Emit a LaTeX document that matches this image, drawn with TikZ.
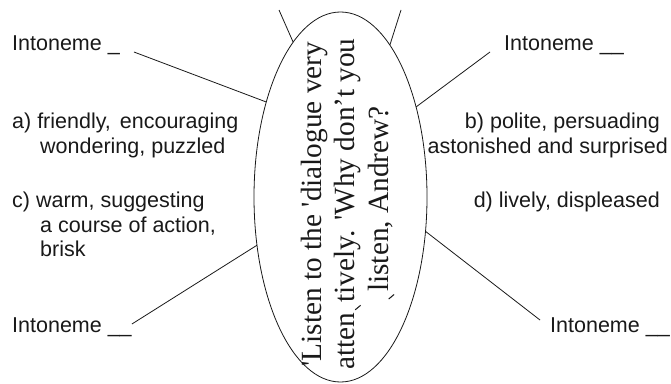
\documentclass[tikz,border=0pt]{standalone}
\usepackage{fontspec}
\usetikzlibrary{shapes.geometric}
\newfontfamily\sansA{Liberation Sans}
\newfontfamily\serifA{Liberation Serif}
\newcommand\lowmk{\kern0.08em\raisebox{-0.22em}{\rotatebox[origin=c]{40}{\rule{0.035em}{0.24em}}}\kern0.08em}
\tikzset{
  lbl/.style={font=\sansA\fontsize{21.5}{25}\selectfont, inner sep=0pt, text=black!90},
  conn/.style={draw=black!90, line width=0.8pt},
  oval/.style={ellipse, draw=black!90, line width=0.8pt, minimum width=173pt, minimum height=370pt, inner sep=0pt, outer sep=0pt},
  quote/.style={rotate=90, align=center, inner sep=0pt, text=black!90, font=\serifA\fontsize{29.3}{33.5}\selectfont}
}
\begin{document}
\begin{tikzpicture}[x=1pt,y=-1pt]
\useasboundingbox (0,0) rectangle (671,383);
\node[oval] (ell) at (340.5,197) {};
\node[quote] (q) at (348,204) {'Listen to the 'dialogue very\\atten\lowmk tively. 'Why don’t you\\\lowmk listen, Andrew?};

% left labels
\node[lbl, anchor=base west] (int1) at (12,50) {Intoneme \_};
\node[lbl, anchor=base west] (a1) at (12,128) {a) friendly,\hspace{3pt} encouraging};
\node[lbl, anchor=base west] (a2) at (40,153) {wondering, puzzled};
\node[lbl, anchor=base west] (c1) at (12,207.5) {c) warm, suggesting};
\node[lbl, anchor=base west] (c2) at (40,232) {a course of action,};
\node[lbl, anchor=base west] (c3) at (40,256.5) {brisk};
\node[lbl, anchor=base west] (int3) at (12,332) {Intoneme \_\_};

% right labels
\node[lbl, anchor=base west] (int2) at (504,50) {Intoneme \_\_};
\node[lbl, anchor=base east] (b1) at (660,128) {b) polite, persuading};
\node[lbl, anchor=base east] (b2) at (668,153) {astonished and surprised};
\node[lbl, anchor=base east] (d1) at (660,207.5) {d) lively, displeased};
\node[lbl, anchor=base west] (int4) at (550,332) {Intoneme \_\_};

% connector ends
\coordinate (e1) at ([xshift=14pt,yshift=-2pt]int1.base east);
\coordinate (e2) at ([xshift=-14pt,yshift=-2pt]int2.base west);
\coordinate (e3) at ([xshift=0pt,yshift=8pt]int3.base east);
\coordinate (e4) at ([xshift=-10pt,yshift=12pt]int4.base west);
\coordinate (t1) at (279,10);
\coordinate (t2) at (401,10);

\draw[conn] (e1) -- (ell.128.5);
\draw[conn] (e2) -- (ell.50.8);
\draw[conn] (e3) -- (ell.210.9);
\draw[conn] (e4) -- (ell.-22.8);
\draw[conn] (t1) -- (ell.107.4);
\draw[conn] (t2) -- (ell.72.9);
\end{tikzpicture}
\end{document}
